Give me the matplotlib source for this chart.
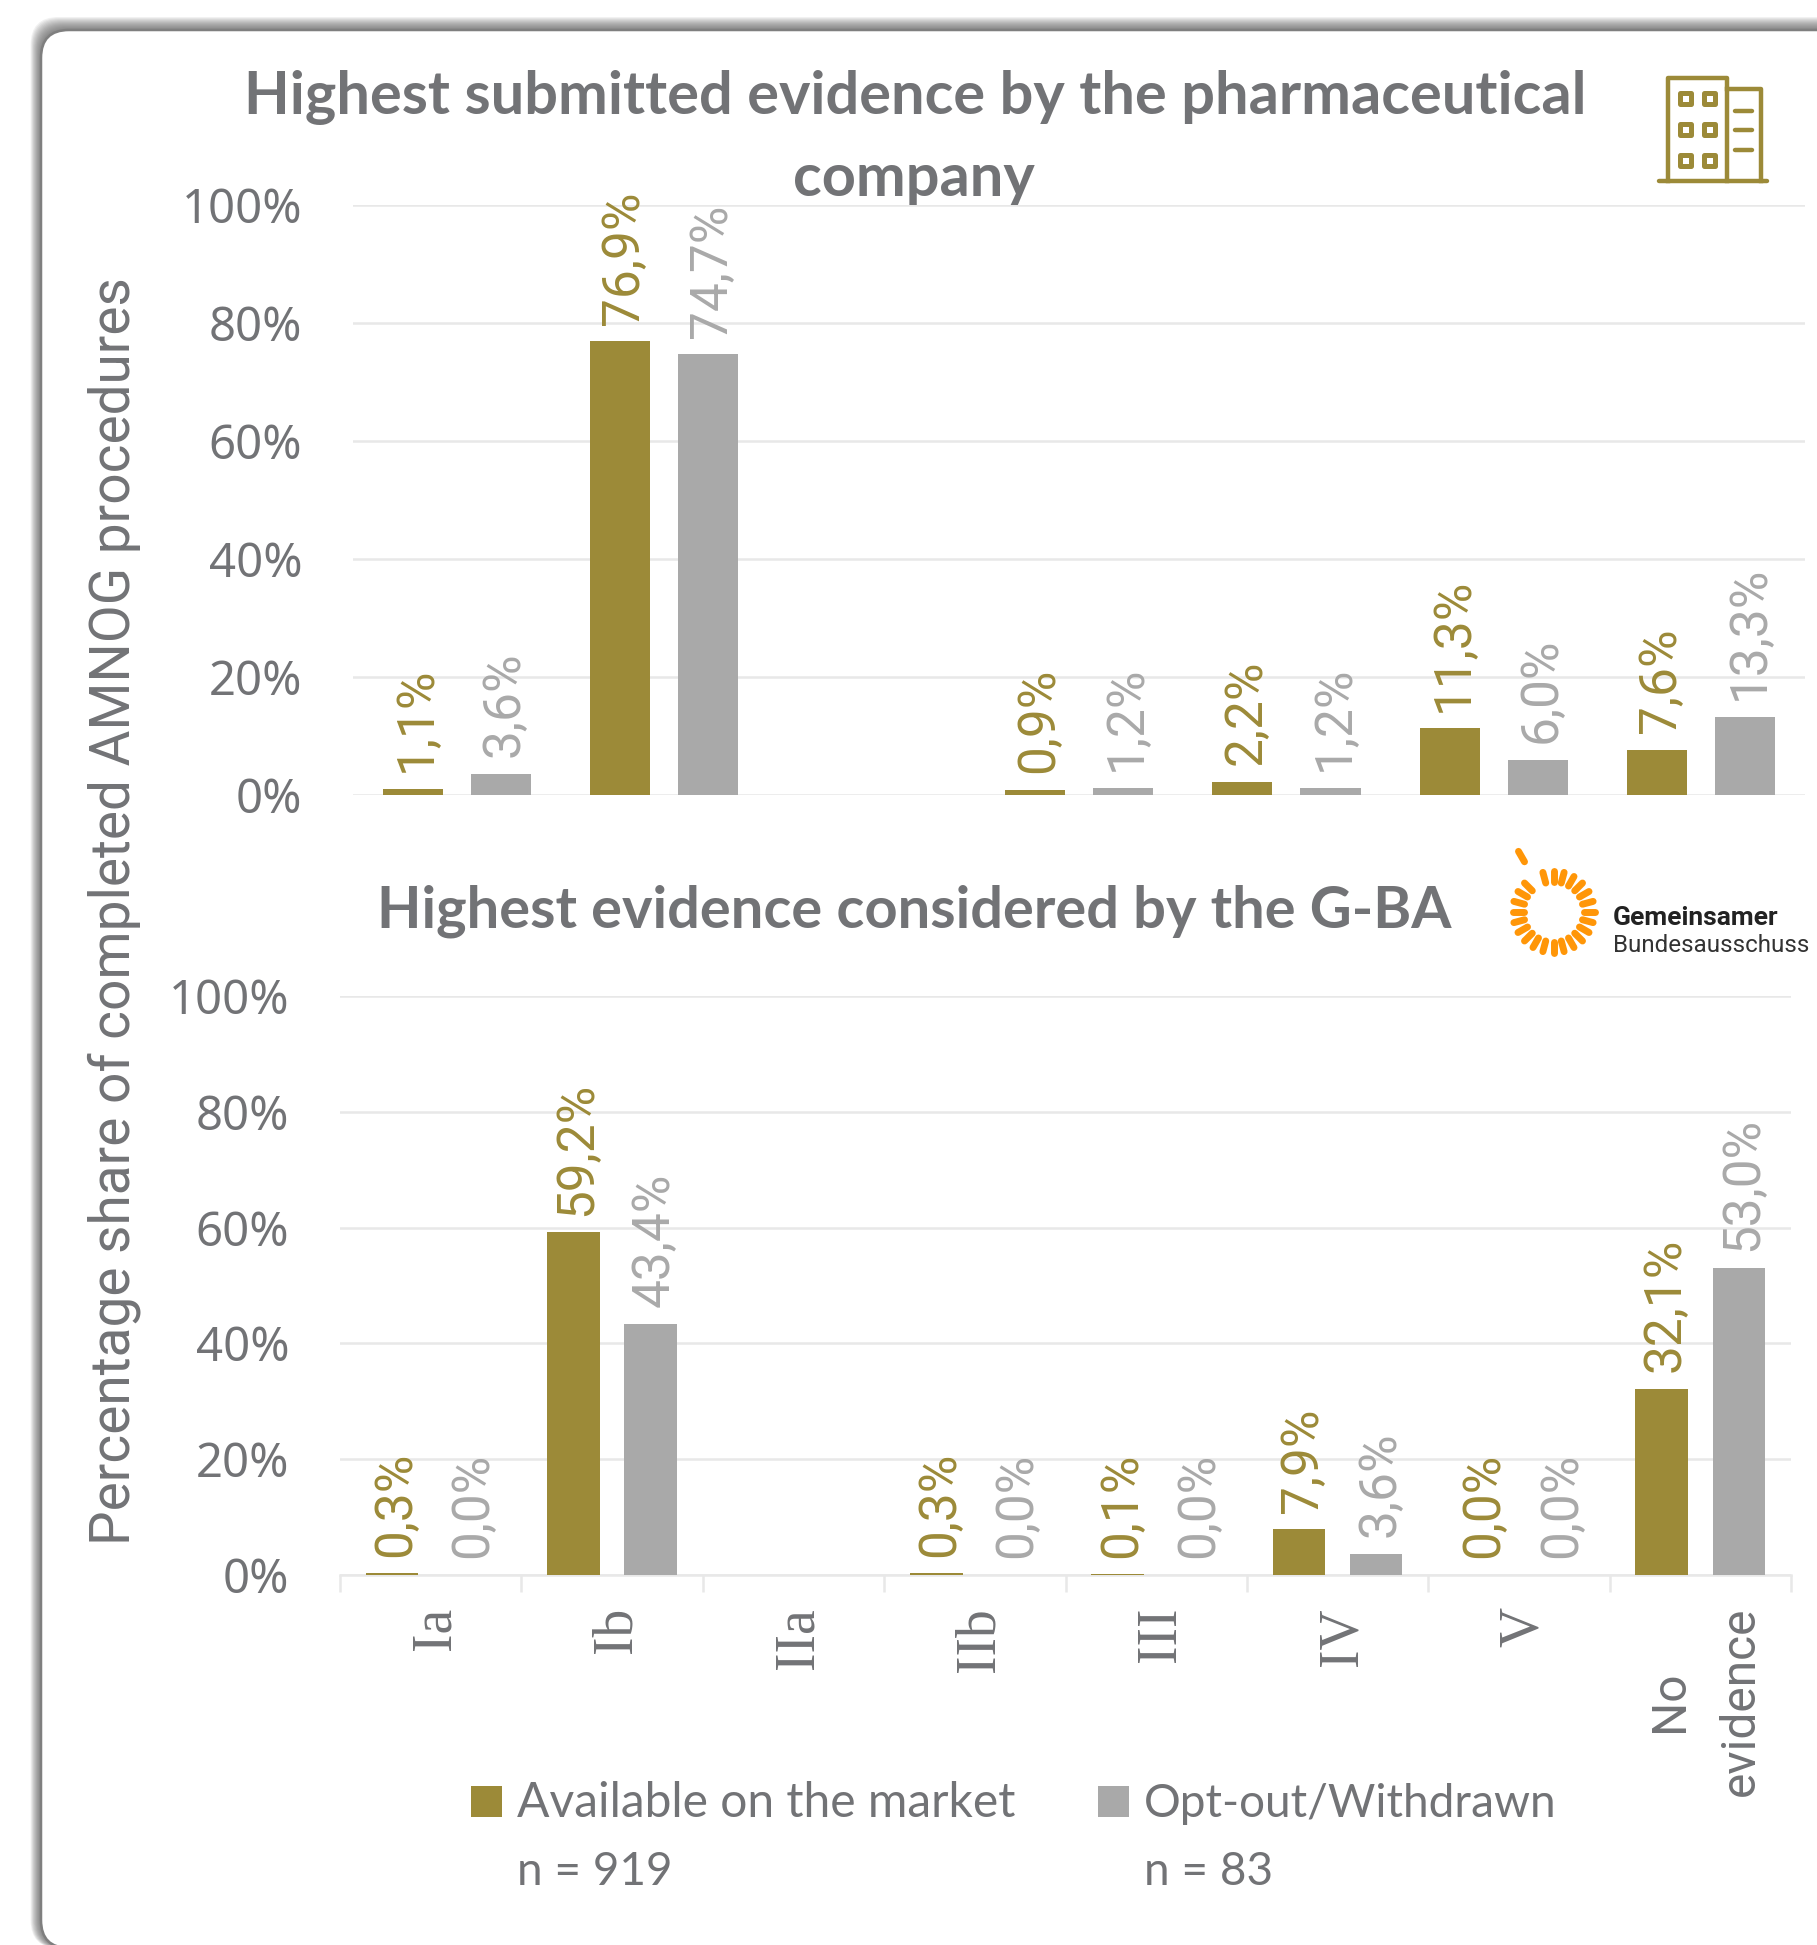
#!/usr/bin/env python3
"""Evidence levels in AMNOG procedures: submitted by the company vs. considered by the G-BA."""

import numpy as np
import matplotlib
matplotlib.use('Agg')
import matplotlib.pyplot as plt
from matplotlib.patches import FancyBboxPatch, Rectangle
from matplotlib.transforms import ScaledTranslation

W, H = 1817, 1945

GOLD = '#9C8A38'
GREY = '#A9A9A9'
TEXT = '#727376'
GRID = '#E8E8E8'
ORANGE = '#FF9608'

NARROW = 'Lato'
WIDE = 'Roboto'

top_cats = ['Ia', 'Ib', 'IIa', 'IIb', 'III', 'IV', 'No evidence']
top_market = [1.1, 76.9, None, 0.9, 2.2, 11.3, 7.6]
top_optout = [3.6, 74.7, None, 1.2, 1.2, 6.0, 13.3]

bottom_cats = ['Ia', 'Ib', 'IIa', 'IIb', 'III', 'IV', 'V', 'No\nevidence']
bottom_market = [0.3, 59.2, None, 0.3, 0.1, 7.9, 0.0, 32.1]
bottom_optout = [0.0, 43.4, None, 0.0, 0.0, 3.6, 0.0, 53.0]

y_ticks = [0, 20, 40, 60, 80, 100]

BAR_W = 0.29
STEP = 0.425


def axes_px(fig, left, top, right, bottom):
    return fig.add_axes([left / W, 1 - bottom / H, (right - left) / W, (bottom - top) / H])


def draw_card(bg):
    # soft shadow on the top and left edges, then the card itself
    for i in range(13, 0, -1):
        bg.add_patch(FancyBboxPatch((41 - i * 0.8, 30 - i), 2000, 1918 + i,
                                    boxstyle='round,pad=0,rounding_size=28',
                                    fc='#505050', ec='none', alpha=0.08))
    bg.add_patch(FancyBboxPatch((41, 30), 2000, 1918,
                                boxstyle='round,pad=0,rounding_size=28',
                                fc='white', ec='#7F7F7F', lw=1.8))


def draw_building(bg):
    lw = 3.2
    bg.plot([1668, 1668, 1727, 1727], [181, 78, 78, 181], color=GOLD, lw=lw, solid_joinstyle='round')
    bg.plot([1727, 1761, 1761], [89, 89, 181], color=GOLD, lw=lw, solid_joinstyle='round')
    bg.plot([1659, 1767], [181, 181], color=GOLD, lw=lw, solid_capstyle='round')
    for cx in (1685, 1709):
        for cy in (98, 129, 160):
            bg.add_patch(Rectangle((cx - 5.5, cy - 5.5), 11, 11, fc='none', ec=GOLD, lw=3.6,
                                   joinstyle='round'))
    for ly in (111, 130, 150):
        bg.plot([1735, 1752], [ly, ly], color=GOLD, lw=lw, solid_capstyle='round')


def draw_gba_logo(bg):
    cx, cy = 1553.5, 912
    angles = list(range(105, -181, -15)) + [165, 150, 135]
    for a in angles:
        t = np.radians(a)
        bg.plot([cx + 30 * np.cos(t), cx + 41 * np.cos(t)],
                [cy - 30 * np.sin(t), cy - 41 * np.sin(t)],
                color=ORANGE, lw=5, solid_capstyle='round')
    t = np.radians(120)
    bg.plot([cx + 58 * np.cos(t), cx + 70 * np.cos(t)],
            [cy - 58 * np.sin(t), cy - 70 * np.sin(t)],
            color=ORANGE, lw=5, solid_capstyle='round')
    bg.text(1613, 925, 'Gemeinsamer', family='Roboto', weight='bold', fontsize=19,
            color='#222222', va='baseline')
    bg.text(1613, 952, 'Bundesausschuss', family='Roboto', fontsize=17.4,
            color='#333333', va='baseline')


def draw_panel(fig, ax, cats, market, optout, show_x):
    x = np.arange(len(cats))
    for offset, vals, color in ((-STEP / 2, market, GOLD), (STEP / 2, optout, GREY)):
        for xi, v in zip(x, vals):
            if v is None:
                continue
            ax.bar(xi + offset, v, BAR_W, color=color, zorder=3)
            ax.annotate(f'{v:.1f}%'.replace('.', ','), (xi + offset, v),
                        xytext=(3, 12), textcoords='offset points', rotation=90,
                        ha='center', va='bottom', color=color, family=WIDE,
                        fontsize=37, zorder=4)

    ax.set_xlim(-0.5, len(cats) - 0.5)
    ax.set_ylim(0, 100)
    ax.set_yticks(y_ticks)
    ax.set_yticklabels([f'{t}%' for t in y_ticks], family='Noto Sans', fontsize=34, color=TEXT)
    ax.tick_params(axis='y', length=0, pad=36.5)
    ax.grid(axis='y', color=GRID, lw=1.8, zorder=0)
    ax.set_axisbelow(True)
    ax.patch.set_visible(False)
    for spine in ax.spines.values():
        spine.set_visible(False)

    if show_x:
        ax.set_xticks(x)
        ax.set_xticklabels(cats, rotation=90, rotation_mode='default', ha='center', va='top',
                           multialignment='center', color=TEXT, fontsize=34.5, linespacing=1.7)
        ax.tick_params(axis='x', which='major', length=0, pad=23)
        ax.set_xticks(np.arange(len(cats) + 1) - 0.5, minor=True)
        ax.tick_params(axis='x', which='minor', length=12, width=1.8, color=GRID)
        # tick_params resets label transforms, so the sideways shift goes last
        nudge = ScaledTranslation(3.5 / 72, 0, fig.dpi_scale_trans)
        for lab in ax.get_xticklabels():
            lab.set_transform(lab.get_transform() + nudge)
            if 'evidence' not in lab.get_text():
                lab.set_family('Liberation Serif')
                lab.set_fontsize(40)
            else:
                lab.set_family(WIDE)
        ax.spines['bottom'].set_visible(True)
        ax.spines['bottom'].set_color(GRID)
        ax.spines['bottom'].set_linewidth(1.8)
    else:
        ax.set_xticks([])


def main():
    fig = plt.figure(figsize=(W / 100, H / 100), dpi=100, facecolor='white')

    bg = fig.add_axes([0, 0, 1, 1], zorder=0)
    bg.set_xlim(0, W)
    bg.set_ylim(H, 0)
    bg.axis('off')

    draw_card(bg)
    draw_building(bg)
    draw_gba_logo(bg)

    bg.text(915, 97, 'Highest submitted evidence by the pharmaceutical', family=NARROW,
            weight='bold', fontsize=42.8, color=TEXT, ha='center', va='center')
    bg.text(914, 179, 'company', family=NARROW, weight='bold', fontsize=42.8,
            color=TEXT, ha='center', va='center', zorder=5)
    bg.text(914, 911, 'Highest evidence considered by the G-BA', family=NARROW,
            weight='bold', fontsize=41.7, color=TEXT, ha='center', va='center')

    bg.text(114, 911, 'Percentage share of completed AMNOG procedures', family=WIDE,
            fontsize=39.6, color=TEXT, rotation=90, ha='center', va='center')

    # legend, two entries each with its n below
    legend_items = [(471, GOLD, 'Available on the market', 'n = 919', 34.6),
                    (1098, GREY, 'Opt-out/Withdrawn', 'n = 83', 33)]
    for lx, color, name, n, size in legend_items:
        bg.add_patch(Rectangle((lx, 1786), 31, 31, fc=color, ec='none'))
        bg.text(lx + 46, 1817, name, family=NARROW, fontsize=size, color=TEXT, va='baseline')
        bg.text(lx + 46, 1885, n, family=NARROW, fontsize=33, color=TEXT, va='baseline')

    ax_top = axes_px(fig, 353, 205, 1805, 795)
    ax_bottom = axes_px(fig, 340, 996, 1791, 1575)
    ax_top.set_zorder(1)
    ax_bottom.set_zorder(1)

    draw_panel(fig, ax_top, top_cats, top_market, top_optout, False)
    draw_panel(fig, ax_bottom, bottom_cats, bottom_market, bottom_optout, True)

    fig.savefig('out.png', dpi=100)


if __name__ == '__main__':
    main()
